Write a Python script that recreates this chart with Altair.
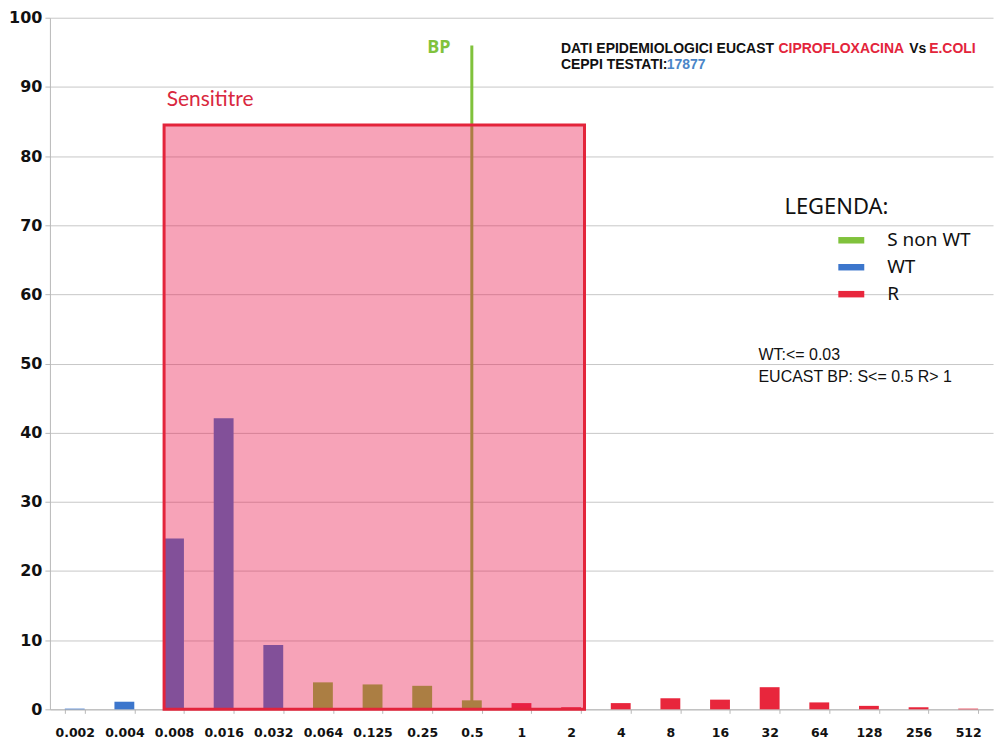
import altair as alt
import pandas as pd

# ---- data ----
mic = ["0.002", "0.004", "0.008", "0.016", "0.032", "0.064", "0.125", "0.25", "0.5",
       "1", "2", "4", "8", "16", "32", "64", "128", "256", "512"]
pct = [0.1, 1.1, 24.7, 42.1, 9.3, 3.9, 3.6, 3.4, 1.3,
       0.9, 0.3, 0.9, 1.6, 1.4, 3.2, 1.0, 0.5, 0.3, 0.1]
klass = ["WT"] * 5 + ["S non WT"] * 4 + ["R"] * 10
legend_order = ["S non WT", "WT", "R"]
legend_colors = ["#80c23c", "#3c76cc", "#e8263c"]

sensititre_from, sensititre_to, sensititre_top = "0.008", "2", 84.5
bp_mic, bp_top = "0.5", 96

df = pd.DataFrame({"mic": mic, "pct": pct, "classe": klass})

W, H = 945, 693
OX, OY = 50, 17  # plot origin on the page (for annotation placement)

yscale = alt.Scale(domain=[0, 100], nice=False)
yaxis = alt.Axis(title=None, values=list(range(0, 101, 10)), labelFont="DejaVu Sans",
                 labelFontWeight="bold", labelFontSize=16, labelColor="#111",
                 labelPadding=3, tickSize=5, tickColor="#b8b8b8", domainColor="#b8b8b8",
                 gridColor="#c8c8c8", gridWidth=1)

bars = alt.Chart(df).mark_bar().encode(
    x=alt.X("mic:N", sort=mic,
            scale=alt.Scale(paddingInner=0.6, paddingOuter=0.3),
            axis=alt.Axis(title=None, labelAngle=0, tickBand="extent", grid=False,
                          labelFont="DejaVu Sans", labelFontWeight="bold", labelFontSize=12.5,
                          labelColor="#111", labelPadding=13, tickSize=4,
                          tickColor="#b8b8b8", domainColor="#b8b8b8")),
    y=alt.Y("pct:Q", scale=yscale, axis=yaxis),
    color=alt.Color("classe:N", scale=alt.Scale(domain=legend_order, range=legend_colors),
                    legend=alt.Legend(title=None, orient="none",
                                      legendX=840 - OX, legendY=227 - OY,
                                      symbolType="M-1,-0.25H1V0.25H-1Z", symbolSize=676,
                                      symbolStrokeWidth=0, symbolOpacity=1,
                                      labelFont="Noto Sans", labelFontSize=19,
                                      labelColor="#111", labelOffset=23,
                                      labelBaseline="middle", rowPadding=4, padding=0)),
)

xq = alt.Scale(domain=[-0.5, len(mic) - 0.5], nice=False, zero=False)

bp_df = pd.DataFrame({"x": [mic.index(bp_mic)], "y0": [0], "y1": [bp_top]})
bp = alt.Chart(bp_df).mark_rule(color="#80c23c", strokeWidth=3).encode(
    x=alt.X("x:Q", scale=xq, axis=None),
    y=alt.Y("y0:Q", scale=yscale),
    y2="y1:Q",
)

rect_df = pd.DataFrame({
    "x0": [mic.index(sensititre_from) - 0.2],
    "x1": [mic.index(sensititre_to) + 0.27],
    "y0": [0], "y1": [sensititre_top],
})
box = alt.Chart(rect_df).mark_rect(fill="#eb194e", fillOpacity=0.4,
                                   stroke="#e3243b", strokeWidth=3).encode(
    x=alt.X("x0:Q", scale=xq, axis=None),
    x2="x1:Q",
    y=alt.Y("y0:Q", scale=yscale),
    y2="y1:Q",
)


def label(text, x, y, color="#111", size=14, weight="normal", font="Liberation Sans"):
    return alt.Chart(pd.DataFrame({"t": [text]})).mark_text(
        align="left", baseline="middle", font=font, fontSize=size,
        fontWeight=weight, color=color,
    ).encode(x=alt.value(x - OX), y=alt.value(y - OY), text="t:N")


TS = 14
texts = [
    label("BP", 428, 47, color="#80c23c", size=18, weight="bold", font="Open Sans"),
    label("Sensititre", 167, 99, color="#d9283e", size=21, font="Lato"),
    label("DATI EPIDEMIOLOGICI EUCAST", 562, 48, size=TS, weight="bold"),
    label("CIPROFLOXACINA", 780, 48, color="#e3243b", size=TS, weight="bold"),
    label("Vs", 911, 48, size=TS, weight="bold"),
    label("E.COLI", 931, 48, color="#e3243b", size=TS, weight="bold"),
    label("CEPPI TESTATI:", 562, 64, size=TS, weight="bold"),
    label("17877", 668, 64, color="#4a86c8", size=TS, weight="bold"),
    label("LEGENDA:", 786, 207, size=22, font="Noto Sans"),
    label("WT:<= 0.03", 760, 355, size=16),
    label("EUCAST BP: S<= 0.5 R> 1", 760, 377, size=16),
]

chart = alt.layer(bars, bp, box, *texts).resolve_scale(x="independent").properties(
    width=W, height=H,
    autosize=alt.AutoSizeParams(type="none"),
    padding={"left": 42, "top": 9, "right": 5, "bottom": 36},
).configure_view(stroke=None)

chart.save("out.html", embed_options={"renderer": "svg", "actions": False})
